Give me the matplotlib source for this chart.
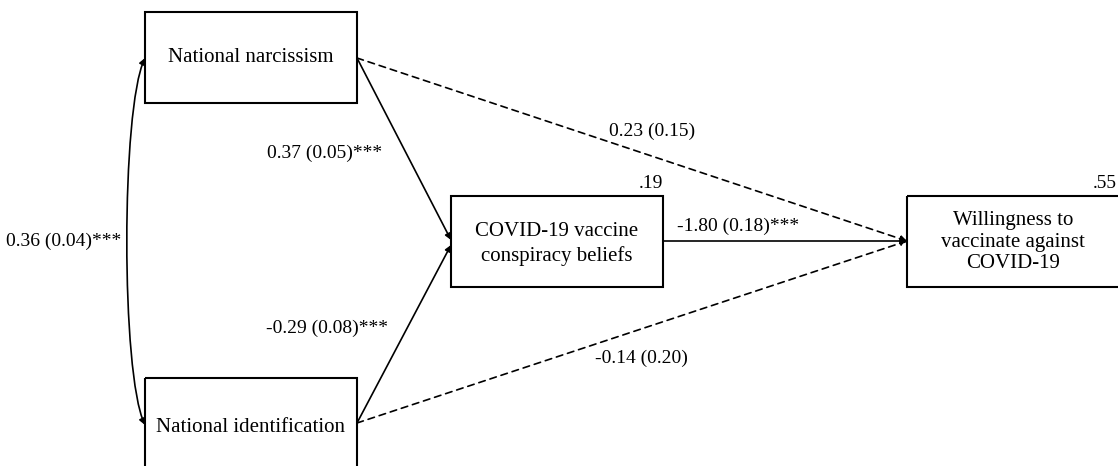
import matplotlib.pyplot as plt
from matplotlib.patches import Rectangle, FancyArrowPatch
from matplotlib.path import Path

plt.rcParams['font.family'] = ['Liberation Serif', 'DejaVu Serif']

# node labels and explained variance
node_names = ["National narcissism", "National identification",
              "COVID-19 vaccine\nconspiracy beliefs",
              "Willingness to\nvaccinate against\nCOVID-19"]
r_squared = {2: ".19", 3: ".55"}

# paths: (from, to, estimate, se, stars)
path_from = [0, 1, 0, 1, 2]
path_to = [2, 2, 3, 3, 3]
estimates = [0.37, -0.29, 0.23, -0.14, -1.80]
std_errors = [0.05, 0.08, 0.15, 0.20, 0.18]
stars = ["***", "***", "", "", "***"]

# covariance between the two predictors
cov_est, cov_se, cov_stars = 0.36, 0.04, "***"

# layout (pixels, y down)
boxes = [(145, 12, 212, 91), (145, 378, 212, 100),
         (451, 196, 212, 91), (907, 196, 260, 91)]
text_pos = [(251, 58), (251, 428), (557, 244), (1013, 242)]
spacing = [1.1, 1.1, 1.32, 1.2]
starts = {0: (357, 58), 1: (357, 423), 2: (663, 241)}
ends = {(0, 2): (451, 240), (1, 2): (451, 245),
        (0, 3): (907, 241), (1, 3): (907, 241), (2, 3): (907, 241)}
label_pos = [(325, 153), (327, 328), (652, 131), (641, 358), (738, 226)]

fig = plt.figure(figsize=(11.18, 4.66), dpi=100)
ax = fig.add_axes([0, 0, 1, 1])
ax.set_xlim(0, 1118)
ax.set_ylim(466, 0)
ax.axis('off')

for i, (x, y, w, h) in enumerate(boxes):
    ax.add_patch(Rectangle((x, y), w, h, fill=False, lw=1.5, ec='black'))
    ax.text(text_pos[i][0], text_pos[i][1], node_names[i], ha='center',
            va='center', fontsize=15, linespacing=spacing[i])

for i, txt in r_squared.items():
    x, y, w, h = boxes[i]
    rx = x + w if i == 2 else 1117
    ax.text(rx, y - 4, txt, ha='right', va='bottom', fontsize=14)

for k in range(len(estimates)):
    a, b = path_from[k], path_to[k]
    ls = '-' if stars[k] else (0, (4, 3))
    arr = FancyArrowPatch(starts[a], ends[(a, b)], arrowstyle='-|>',
                          mutation_scale=9, lw=1.2, color='black',
                          linestyle=ls, shrinkA=0, shrinkB=0)
    ax.add_patch(arr)
    lbl = f"{estimates[k]:.2f} ({std_errors[k]:.2f}){stars[k]}"
    ax.text(label_pos[k][0], label_pos[k][1], lbl, ha='center',
            va='center', fontsize=14)

# curved double-headed arrow between predictors
verts = [(145, 58), (121, 110), (121, 373), (145, 425)]
codes = [Path.MOVETO, Path.CURVE4, Path.CURVE4, Path.CURVE4]
curve = FancyArrowPatch(path=Path(verts, codes), arrowstyle='<|-|>',
                        mutation_scale=9, lw=1.2, color='black')
ax.add_patch(curve)
ax.text(121, 241, f"{cov_est:.2f} ({cov_se:.2f}){cov_stars}",
        ha='right', va='center', fontsize=14)

fig.savefig('out.png', dpi=100)
